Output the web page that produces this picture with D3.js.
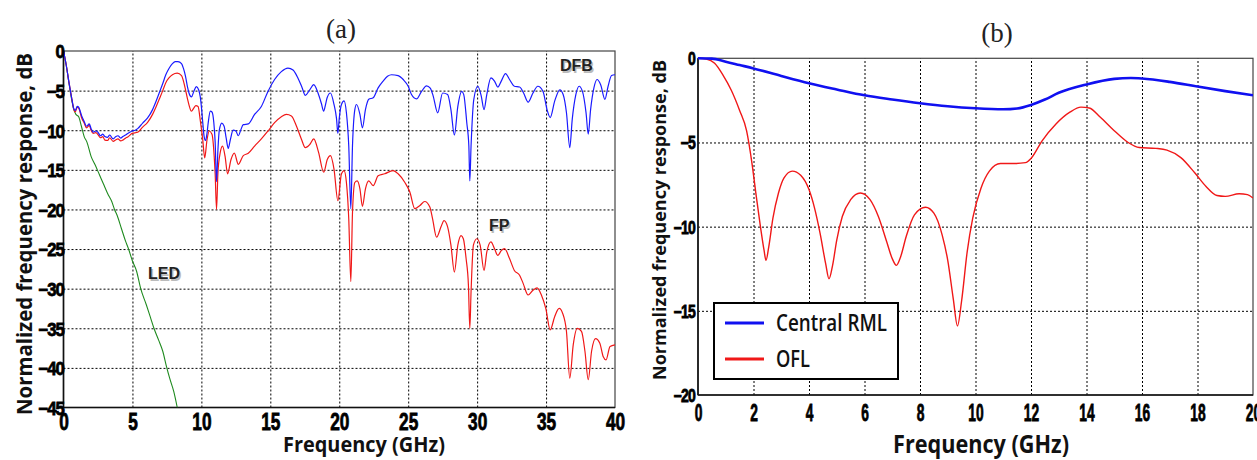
<!DOCTYPE html>
<html>
<head>
<meta charset="utf-8">
<title>Frequency response</title>
<script src="https://cdn.jsdelivr.net/npm/d3@7"></script>
<style>
  body { margin: 0; background: #fff; }
  svg { display: block; }
  .grid line { stroke: #000; stroke-width: 1; stroke-dasharray: 2,2; }
  .grid path { display: none; }
  .tick-lbl text { font-family: "Liberation Sans", Arial, sans-serif; font-weight: bold; fill: #000; stroke: #000; stroke-width: 0.8px; }
</style>
</head>
<body>
<svg id="chart" width="1257" height="460"></svg>
<script>
// ---------- panel (a) data: [GHz, dB] ----------
const dfb = [[0,0],[0.2,-1.8],[0.4,-4.0],[0.6,-6.0],[0.75,-7.3],[0.85,-7.5],[1.0,-7.0],[1.1,-7.1],[1.32,-8.2],[1.5,-8.9],[1.67,-9.5],[1.87,-9.2],[2.0,-9.8],[2.15,-10.25],[2.35,-10.1],[2.5,-10.25],[2.68,-10.7],[2.85,-10.5],[3.0,-10.8],[3.2,-10.9],[3.35,-10.6],[3.6,-11.1],[3.8,-10.8],[3.95,-10.7],[4.15,-11.0],[4.3,-10.8],[4.5,-10.6],[4.66,-10.4],[4.98,-10.1],[5.2,-10.0],[5.38,-9.8],[5.74,-9.1],[6.1,-8.45],[6.46,-7.4],[6.7,-6.4],[6.94,-5.3],[7.2,-4.1],[7.42,-3.0],[7.65,-2.2],[7.9,-1.6],[8.1,-1.35],[8.3,-1.35],[8.56,-1.6],[8.7,-2.2],[8.85,-3.2],[9.0,-4.6],[9.1,-5.3],[9.28,-5.8],[9.45,-5.1],[9.64,-4.5],[9.8,-4.9],[9.92,-5.8],[10.0,-7.0],[10.1,-9.0],[10.2,-10.8],[10.3,-11.3],[10.4,-10.5],[10.5,-9.0],[10.65,-7.6],[10.77,-7.7],[10.9,-9.0],[11.0,-11.5],[11.1,-16.5],[11.2,-12.5],[11.3,-10.0],[11.48,-9.1],[11.65,-9.5],[11.8,-11.0],[11.95,-12.3],[12.1,-11.2],[12.3,-10.0],[12.5,-10.1],[12.68,-10.7],[12.85,-10.0],[13.04,-9.3],[13.4,-9.2],[13.86,-8.0],[14.35,-7.0],[14.83,-5.1],[15.31,-3.6],[15.8,-2.6],[16.28,-2.15],[16.65,-2.4],[17.0,-3.4],[17.3,-4.6],[17.54,-5.6],[17.86,-4.9],[18.15,-4.25],[18.46,-5.3],[18.7,-6.6],[18.87,-7.6],[19.0,-6.8],[19.12,-5.9],[19.36,-5.3],[19.62,-6.75],[19.8,-8.5],[19.9,-10.4],[20.0,-8.5],[20.16,-6.75],[20.35,-6.3],[20.52,-7.8],[20.69,-12.0],[20.84,-19.9],[20.96,-12.0],[21.13,-7.4],[21.25,-6.75],[21.5,-8.0],[21.68,-9.7],[21.9,-7.4],[22.14,-6.1],[22.46,-5.9],[22.82,-4.65],[23.18,-3.8],[23.5,-3.2],[23.79,-3.0],[24.27,-3.1],[24.64,-3.6],[25.0,-4.45],[25.24,-5.5],[25.6,-6.05],[25.97,-5.1],[26.33,-4.4],[26.6,-4.7],[26.8,-5.6],[27.14,-7.8],[27.5,-5.3],[27.86,-5.5],[28.1,-7.4],[28.35,-10.6],[28.6,-7.0],[28.88,-5.1],[29.03,-5.5],[29.25,-9.05],[29.4,-12.0],[29.47,-16.4],[29.56,-12.0],[29.76,-6.1],[30.05,-4.45],[30.3,-5.7],[30.5,-7.4],[30.7,-5.5],[31.0,-3.4],[31.26,-3.8],[31.5,-4.55],[31.75,-3.8],[32.06,-2.85],[32.35,-3.6],[32.7,-4.45],[33.08,-4.55],[33.37,-5.3],[33.7,-6.45],[34.05,-5.3],[34.4,-4.45],[34.78,-5.1],[35.07,-7.4],[35.3,-8.4],[35.63,-6.3],[36.0,-4.9],[36.24,-5.5],[36.48,-7.8],[36.72,-12.2],[36.9,-8.6],[37.16,-5.5],[37.4,-4.45],[37.64,-5.1],[37.9,-7.8],[38.06,-10.5],[38.23,-7.4],[38.47,-4.65],[38.7,-3.6],[38.96,-4.25],[39.27,-6.1],[39.5,-4.45],[39.75,-3.1],[40.0,-3.0]];

const fp = [[0,0],[0.2,-1.8],[0.4,-4.0],[0.6,-6.0],[0.75,-7.4],[0.85,-7.7],[1.0,-7.1],[1.1,-7.2],[1.32,-8.45],[1.5,-9.1],[1.67,-9.7],[1.87,-9.4],[2.0,-10.0],[2.15,-10.4],[2.35,-10.3],[2.5,-10.55],[2.68,-10.95],[2.85,-10.8],[3.0,-11.25],[3.2,-11.3],[3.35,-10.95],[3.6,-11.4],[3.8,-11.2],[3.95,-11.1],[4.15,-11.35],[4.3,-11.25],[4.5,-11.0],[4.66,-10.85],[4.98,-10.4],[5.38,-10.25],[5.74,-9.6],[6.1,-9.0],[6.46,-8.0],[6.7,-7.1],[6.94,-6.1],[7.2,-5.0],[7.42,-4.0],[7.65,-3.4],[7.9,-3.0],[8.25,-2.8],[8.56,-3.1],[8.7,-3.8],[8.85,-4.9],[9.0,-6.1],[9.1,-6.8],[9.28,-7.6],[9.45,-7.2],[9.6,-6.9],[9.76,-7.0],[9.93,-8.9],[10.1,-11.2],[10.24,-13.5],[10.41,-11.2],[10.57,-10.1],[10.77,-10.5],[10.93,-13.3],[11.0,-15.5],[11.1,-20.0],[11.2,-15.4],[11.36,-12.9],[11.53,-12.0],[11.72,-13.3],[11.9,-15.5],[12.15,-13.7],[12.39,-12.9],[12.68,-14.3],[13.04,-13.2],[13.4,-12.9],[13.86,-12.0],[14.35,-11.1],[14.83,-10.1],[15.31,-9.05],[15.8,-8.3],[16.16,-8.0],[16.53,-8.2],[16.9,-9.5],[17.25,-11.1],[17.54,-12.2],[17.86,-11.8],[18.15,-11.1],[18.5,-12.8],[18.87,-15.3],[19.14,-13.65],[19.36,-13.2],[19.62,-14.9],[19.9,-18.9],[20.16,-15.5],[20.35,-15.1],[20.52,-16.6],[20.69,-21.2],[20.84,-29.1],[20.96,-20.4],[21.13,-16.6],[21.3,-16.4],[21.5,-17.4],[21.68,-19.6],[21.9,-17.4],[22.14,-16.4],[22.46,-17.0],[22.82,-15.75],[23.3,-15.5],[23.9,-15.1],[24.27,-15.5],[24.76,-16.6],[25.12,-17.8],[25.48,-19.9],[25.85,-19.5],[26.2,-19.0],[26.57,-19.7],[26.77,-21.2],[27.06,-23.5],[27.38,-22.2],[27.6,-21.4],[27.86,-22.2],[28.1,-24.5],[28.35,-27.9],[28.6,-24.5],[28.84,-23.3],[29.0,-23.7],[29.2,-26.2],[29.37,-29.6],[29.47,-35.0],[29.56,-30.4],[29.73,-24.5],[29.98,-23.7],[30.22,-24.5],[30.5,-27.7],[30.7,-25.4],[31.0,-24.1],[31.26,-24.95],[31.5,-25.8],[31.75,-25.2],[31.99,-24.95],[32.35,-26.2],[32.7,-27.7],[33.08,-28.3],[33.33,-29.3],[33.7,-30.8],[34.05,-30.2],[34.35,-29.9],[34.66,-30.8],[34.98,-32.5],[35.3,-35.2],[35.63,-33.5],[35.95,-32.5],[36.2,-33.1],[36.48,-35.4],[36.72,-41.3],[36.97,-37.1],[37.26,-35.0],[37.57,-35.4],[37.82,-37.9],[38.06,-41.5],[38.3,-37.9],[38.59,-36.3],[38.9,-36.9],[39.15,-38.6],[39.35,-39.0],[39.64,-37.3],[40.0,-37.1]];

const led = [[0,0],[0.2,-1.8],[0.4,-4.1],[0.6,-6.2],[0.75,-7.4],[0.9,-8.0],[1.1,-8.3],[1.3,-9.5],[1.5,-10.8],[1.7,-11.5],[2.0,-13.3],[2.3,-14.4],[2.6,-15.6],[2.9,-16.8],[3.2,-18.0],[3.5,-19.0],[3.7,-20.0],[3.9,-20.8],[4.2,-22.4],[4.5,-24.0],[4.7,-24.9],[5.0,-26.5],[5.3,-27.8],[5.6,-30.0],[6.0,-32.0],[6.3,-33.6],[6.56,-35.0],[6.9,-36.5],[7.2,-37.9],[7.48,-39.9],[7.7,-41.3],[8.0,-43.0],[8.25,-45.0]];

// ---------- panel (b) data ----------
const rml = [[0,0],[0.5,-0.02],[1,-0.2],[1.5,-0.4],[2,-0.6],[3,-1.05],[4,-1.48],[5,-1.85],[6,-2.2],[7,-2.45],[8,-2.67],[9,-2.85],[10,-2.97],[11,-3.03],[11.5,-2.98],[12,-2.77],[12.5,-2.45],[13,-2.05],[14,-1.55],[15,-1.22],[15.6,-1.17],[16,-1.2],[17,-1.4],[18,-1.68],[19,-1.95],[20,-2.2]];

const ofl = [[0,0],[0.3,-0.05],[0.6,-0.3],[0.9,-1.0],[1.2,-1.9],[1.5,-3.1],[1.75,-4.3],[1.95,-6.3],[2.1,-8.2],[2.25,-10.0],[2.38,-11.4],[2.45,-12.0],[2.55,-11.2],[2.7,-9.5],[2.9,-8.0],[3.1,-7.1],[3.4,-6.7],[3.7,-6.95],[4.0,-7.8],[4.2,-8.9],[4.4,-10.4],[4.6,-12.2],[4.72,-13.1],[4.85,-12.3],[5.0,-10.8],[5.2,-9.4],[5.5,-8.4],[5.85,-8.0],[6.2,-8.4],[6.5,-9.4],[6.8,-10.9],[7.0,-11.9],[7.15,-12.3],[7.3,-11.8],[7.5,-10.6],[7.8,-9.3],[8.2,-8.85],[8.5,-9.2],[8.8,-10.5],[9.0,-12.0],[9.2,-14.3],[9.35,-15.9],[9.5,-14.4],[9.7,-11.5],[9.9,-9.5],[10.2,-7.7],[10.5,-6.7],[10.9,-6.25],[11.4,-6.25],[11.8,-6.2],[12.0,-5.95],[12.4,-4.9],[12.9,-3.9],[13.4,-3.2],[13.8,-2.9],[14.1,-2.95],[14.5,-3.5],[15.0,-4.3],[15.5,-5.0],[15.9,-5.3],[16.5,-5.35],[16.9,-5.45],[17.4,-5.9],[17.9,-6.8],[18.3,-7.6],[18.7,-8.15],[19.0,-8.2],[19.5,-8.05],[19.8,-8.1],[20,-8.3]];

const ticksA_x = [0,5,10,15,20,25,30,35,40];
const ticksA_y = [0,-5,-10,-15,-20,-25,-30,-35,-40,-45];
const ticksB_x = [0,2,4,6,8,10,12,14,16,18,20];
const ticksB_y = [0,-5,-10,-15,-20];
const legendNames = ["Central RML", "OFL"];

const svg = d3.select("#chart");
svg.append("rect").attr("width", 1257).attr("height", 460).attr("fill", "#fff");

// scales
const xa = d3.scaleLinear().domain([0, 40]).range([63.5, 615]);
const ya = d3.scaleLinear().domain([-45, 0]).range([407.5, 51]);
const xb = d3.scaleLinear().domain([0, 20]).range([698, 1253]);
const yb = d3.scaleLinear().domain([-20, 0]).range([395, 58.3]);

function panel(x, y, xt, yt, id) {
  const g = svg.append("g");
  const [x0, x1] = x.range(), [y1, y0] = y.range();
  g.append("clipPath").attr("id", id).append("rect")
    .attr("x", x0).attr("y", y0 - 2).attr("width", x1 - x0).attr("height", y1 - y0 + 2);
  // grid
  g.append("g").attr("class", "grid").attr("transform", `translate(0,${y1})`)
    .call(d3.axisBottom(x).tickValues(xt.slice(1, -1)).tickSize(-(y1 - y0)).tickFormat(""));
  g.append("g").attr("class", "grid").attr("transform", `translate(${x0},0)`)
    .call(d3.axisLeft(y).tickValues(yt.slice(1, -1)).tickSize(-(x1 - x0)).tickFormat(""));
  g.append("rect").attr("x", x0).attr("y", y0).attr("width", x1 - x0).attr("height", y1 - y0)
    .attr("fill", "none").attr("stroke", "#444").attr("stroke-width", 1.2);
  g.append("line").attr("x1", x0).attr("x2", x0).attr("y1", y0).attr("y2", y1)
    .attr("stroke", "#111").attr("stroke-width", 1.6);
  g.append("line").attr("x1", x0).attr("x2", x1).attr("y1", y1).attr("y2", y1)
    .attr("stroke", "#111").attr("stroke-width", 1.6);
  return g;
}

const ga = panel(xa, ya, ticksA_x, ticksA_y, "clipA");
const gb = panel(xb, yb, ticksB_x, ticksB_y, "clipB");

// tick labels (condensed bold digits)
function xLabels(x, ticks, yBase, size, sx) {
  const ax = svg.append("g").attr("class", "tick-lbl").attr("transform", `translate(0,${yBase})`)
    .call(d3.axisBottom(x).tickValues(ticks).tickSize(0).tickPadding(0).tickFormat(d3.format("d")));
  ax.select(".domain").remove();
  ax.selectAll("text").attr("y", 0).attr("dy", null).attr("font-size", size)
    .attr("transform", `scale(${sx},1)`);
}
function yLabels(y, ticks, xRight, size, sx, dy) {
  const ax = svg.append("g").attr("class", "tick-lbl").attr("transform", `translate(${xRight},0)`)
    .call(d3.axisLeft(y).tickValues(ticks).tickSize(0).tickPadding(0).tickFormat(d3.format("d")));
  ax.select(".domain").remove();
  ax.selectAll("text").attr("x", 0).attr("dy", dy).attr("font-size", size)
    .attr("letter-spacing", -1).attr("transform", `scale(${sx},1)`);
}
xLabels(xa, ticksA_x, 430, 24, 0.72);
yLabels(ya, ticksA_y, 64, 19, 0.88, "0.36em");
xLabels(xb, ticksB_x, 421, 23, 0.6);
yLabels(yb, ticksB_y, 695, 18, 0.78, "0.36em");

// lines
function drawLine(g, data, x, y, color, width, clip) {
  g.append("path").datum(data)
    .attr("clip-path", `url(#${clip})`)
    .attr("fill", "none").attr("stroke", color).attr("stroke-width", width)
    .attr("stroke-linejoin", "round")
    .attr("d", d3.line().x(d => x(d[0])).y(d => y(d[1])).curve(d3.curveMonotoneX));
}
drawLine(ga, led, xa, ya, "#1f8a1f", 1.1, "clipA");
drawLine(ga, fp, xa, ya, "#f01818", 1.2, "clipA");
drawLine(ga, dfb, xa, ya, "#1a1aff", 1.2, "clipA");
drawLine(gb, ofl, xb, yb, "#f01818", 1.4, "clipB");
drawLine(gb, rml, xb, yb, "#1010f0", 2.6, "clipB");

// curve labels in panel (a)
[["DFB", 560, 71], ["FP", 489, 231], ["LED", 148, 279]].forEach(([t, x, y]) => {
  svg.append("text").attr("x", x + 1.5).attr("y", y + 1.5).text(t)
    .attr("font-family", "Liberation Sans, Arial, sans-serif").attr("font-weight", "bold")
    .attr("font-size", 16).attr("fill", "#bbb");
  svg.append("text").attr("x", x).attr("y", y).text(t)
    .attr("font-family", "Liberation Sans, Arial, sans-serif").attr("font-weight", "bold")
    .attr("font-size", 16).attr("fill", "#222");
});

// titles
svg.append("text").attr("x", 341).attr("y", 38).attr("text-anchor", "middle")
  .attr("font-family", "Liberation Serif, serif").attr("font-size", 27).attr("fill", "#222").text("(a)");
svg.append("text").attr("x", 997).attr("y", 42).attr("text-anchor", "middle")
  .attr("font-family", "Liberation Serif, serif").attr("font-size", 27).attr("fill", "#222").text("(b)");

// axis titles
function title(t, x, y, size, len, rot) {
  svg.append("text").attr("transform", `translate(${x},${y}) rotate(${rot})`)
    .attr("text-anchor", "middle").attr("font-family", "Open Sans, sans-serif")
    .attr("font-weight", 700).attr("font-size", size).attr("fill", "#111")
    .attr("textLength", len).attr("lengthAdjust", "spacingAndGlyphs").text(t);
}
title("Normalized frequency response, dB", 32, 234, 22, 362, -90);
title("Frequency (GHz)", 364, 452, 22, 162, 0);
title("Normalized frequency response, dB", 666, 220, 17, 320, -90);
title("Frequency (GHz)", 981, 453, 25, 176, 0);

// legend in panel (b)
const lg = svg.append("g");
lg.append("rect").attr("x", 714).attr("y", 303).attr("width", 184).attr("height", 76)
  .attr("fill", "#fff").attr("stroke", "#000").attr("stroke-width", 2);
const legendColors = ["#1010f0", "#f01818"];
legendNames.forEach((name, i) => {
  const yy = 323 + i * 36;
  lg.append("line").attr("x1", 725).attr("x2", 764).attr("y1", yy).attr("y2", yy)
    .attr("stroke", legendColors[i]).attr("stroke-width", 3);
  lg.append("text").attr("x", 776).attr("y", yy + 8).text(name)
    .attr("font-family", "Open Sans, sans-serif").attr("font-weight", 600)
    .attr("font-size", 24).attr("fill", "#111")
    .attr("textLength", i === 0 ? 111 : 34).attr("lengthAdjust", "spacingAndGlyphs");
});
</script>
</body>
</html>
